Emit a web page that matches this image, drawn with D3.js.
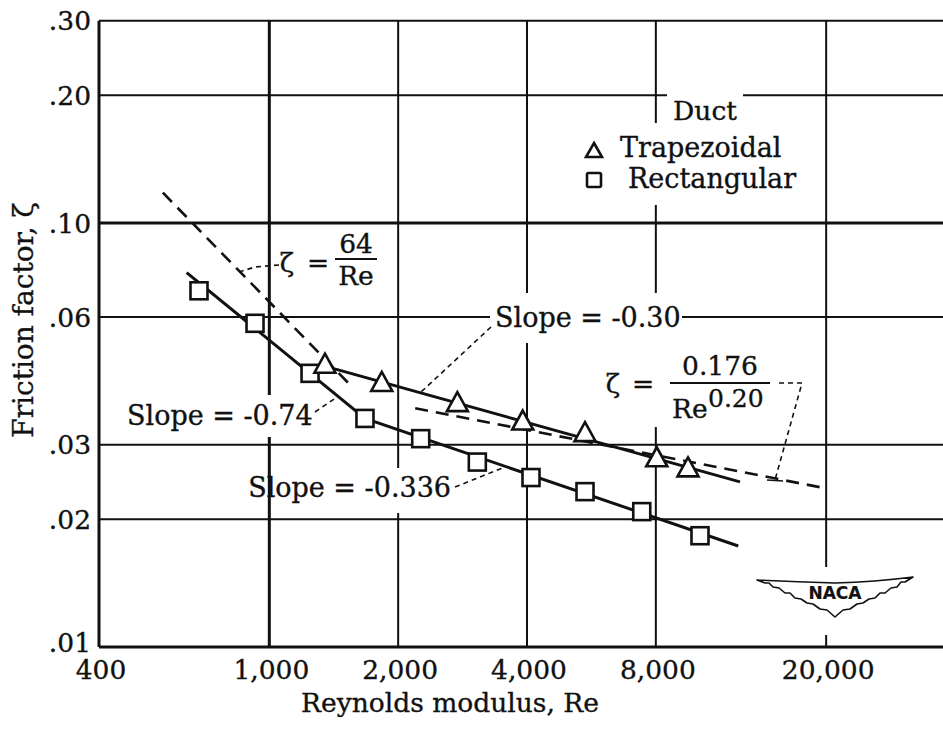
<!DOCTYPE html>
<html><head><meta charset="utf-8">
<script src="https://cdn.jsdelivr.net/npm/d3@7"></script>
<style>
body{margin:0;background:#fff}
text{font-family:"DejaVu Serif",serif;fill:#111;stroke:#111;stroke-width:0.35px}
</style>
</head><body>
<svg id="c" width="943" height="729"></svg>
<script>
// ---- data ----
const xTicks = [400, 1000, 2000, 4000, 8000, 20000];
const xTickLabels = ["400", "1,000", "2,000", "4,000", "8,000", "20,000"];
const yTicks = [0.01, 0.02, 0.03, 0.06, 0.10, 0.20, 0.30];
const yTickLabels = [".01", ".02", ".03", ".06", ".10", ".20", ".30"];

const rectRe   = [685, 926, 1245, 1673, 2258, 3062, 4087, 5465, 7416, 10145];
const rectZeta = [0.0692, 0.0580, 0.0442, 0.0346, 0.0310, 0.0273, 0.0251, 0.02325, 0.02086, 0.0183];
const trapRe   = [1349, 1831, 2750, 3909, 5465, 8040, 9512];
const trapZeta = [0.0467, 0.0423, 0.0379, 0.0343, 0.0322, 0.0281, 0.0266];

const rectFitRe   = [641, 1673, 12465];
const rectFitZeta = [0.0764, 0.0346, 0.01731];
const trapFitRe   = [1328, 12580];
const trapFitZeta = [0.04616, 0.02451];
const laminarRe   = [564, 1569];
const laminarZeta = [0.1179, 0.04085];
const turbRe      = [2192, 19700];
const turbZeta    = [0.03658, 0.02373];

// ---- drawing ----
const svg = d3.select("#c");
const x = d3.scaleLog().domain([400, 40000]).range([99, 955]);
const y = d3.scaleLog().domain([0.01, 0.30]).range([647, 20.7]);
const ink = "#111";
const FS = 26.5;

const grid = svg.append("g");
const majorX = new Set([400, 1000]);
const majorY = new Set([0.01, 0.10]);
grid.selectAll("line.v").data(xTicks).join("line")
  .attr("x1", d => x(d)).attr("x2", d => x(d))
  .attr("y1", y(0.30)).attr("y2", y(0.01))
  .attr("stroke", ink).attr("stroke-width", d => majorX.has(d) ? 3 : 2);
grid.selectAll("line.h").data(yTicks).join("line")
  .attr("x1", x(400)).attr("x2", 943)
  .attr("y1", d => y(d)).attr("y2", d => y(d))
  .attr("stroke", ink).attr("stroke-width", d => majorY.has(d) ? 3.2 : 2);

// gaps in the grid behind labels
const masks = [
  [650, 123, 12, 82],   // legend, 8000 line
  [667, 91, 76, 9],     // legend, .20 line
  [263, 395, 12, 42],   // slope -0.74, 1000 line
  [392, 468, 12, 45],   // slope -0.336, 2000 line
  [520, 293, 12, 50],   // slope -0.30, 4000 line
  [650, 293, 12, 134],  // formula, 8000 line
  [490, 313, 192, 10],  // slope -0.30, .06 line
  [820, 567, 12, 68]    // NACA logo, 20000 line
];
svg.append("g").selectAll("rect").data(masks).join("rect")
  .attr("x", d => d[0]).attr("y", d => d[1]).attr("width", d => d[2]).attr("height", d => d[3])
  .attr("fill", "#fff");

// tick labels
svg.append("g").selectAll("text").data(xTicks).join("text")
  .attr("x", d => x(d) + 2).attr("y", 679)
  .attr("text-anchor", "middle").attr("font-size", FS)
  .text((d, i) => xTickLabels[i]);
svg.append("g").selectAll("text").data(yTicks).join("text")
  .attr("x", 91).attr("y", d => y(d) - (d === 0.01 ? 5 : 0)).attr("dy", "0.36em")
  .attr("text-anchor", "end").attr("font-size", FS)
  .text((d, i) => yTickLabels[i]);

svg.append("text").attr("x", 450).attr("y", 712).attr("text-anchor", "middle")
  .attr("font-size", FS).text("Reynolds modulus, Re");
svg.append("text").attr("transform", "translate(33,320) rotate(-90)")
  .attr("text-anchor", "middle").attr("font-size", 28).text("Friction factor, ζ");

// fitted / reference lines
const line = d3.line().x(d => x(d[0])).y(d => y(d[1]));
const zip = (a, b) => a.map((v, i) => [v, b[i]]);
svg.append("path").attr("d", line(zip(laminarRe, laminarZeta)))
  .attr("fill", "none").attr("stroke", ink).attr("stroke-width", 2.6).attr("stroke-dasharray", "13 8");
svg.append("path").attr("d", line(zip(turbRe, turbZeta)))
  .attr("fill", "none").attr("stroke", ink).attr("stroke-width", 2.6).attr("stroke-dasharray", "13 8");
svg.append("path").attr("d", line(zip(rectFitRe, rectFitZeta)))
  .attr("fill", "none").attr("stroke", ink).attr("stroke-width", 3);
svg.append("path").attr("d", line(zip(trapFitRe, trapFitZeta)))
  .attr("fill", "none").attr("stroke", ink).attr("stroke-width", 3);

// markers
const sq = 17;
svg.append("g").selectAll("rect").data(zip(rectRe, rectZeta)).join("rect")
  .attr("x", d => x(d[0]) - sq / 2).attr("y", d => y(d[1]) - sq / 2)
  .attr("width", sq).attr("height", sq)
  .attr("fill", "#fff").attr("stroke", ink).attr("stroke-width", 2.6);
const tri = (cx, cy, w, h) => `M${cx},${cy - h / 2}L${cx + w / 2},${cy + h / 2}L${cx - w / 2},${cy + h / 2}Z`;
svg.append("g").selectAll("path").data(zip(trapRe, trapZeta)).join("path")
  .attr("d", d => tri(x(d[0]), y(d[1]), 21, 19))
  .attr("fill", "#fff").attr("stroke", ink).attr("stroke-width", 2.6).attr("stroke-linejoin", "miter");

// annotations
const leader = (d) => svg.append("path").attr("d", d).attr("fill", "none")
  .attr("stroke", ink).attr("stroke-width", 1.6).attr("stroke-dasharray", "5 4");

// zeta = 64/Re
svg.append("text").attr("x", 287).attr("y", 262).attr("dy", "0.36em").attr("text-anchor", "middle").attr("font-size", FS).text("ζ");
svg.append("text").attr("x", 318).attr("y", 262).attr("dy", "0.36em").attr("text-anchor", "middle").attr("font-size", FS).text("=");
svg.append("text").attr("x", 356).attr("y", 253).attr("text-anchor", "middle").attr("font-size", FS).text("64");
svg.append("line").attr("x1", 335).attr("x2", 377).attr("y1", 259).attr("y2", 259).attr("stroke", ink).attr("stroke-width", 2);
svg.append("text").attr("x", 356).attr("y", 285).attr("text-anchor", "middle").attr("font-size", FS).text("Re");
leader("M279,265 L255,267 L236,273");

// Slope = -0.74
svg.append("text").attr("x", 127).attr("y", 425).attr("font-size", 27).text("Slope = -0.74");
leader("M315,412 L337,397");

// Slope = -0.30
svg.append("text").attr("x", 495).attr("y", 327).attr("font-size", 27).text("Slope = -0.30");
leader("M491,327 L420,393");

// Slope = -0.336
svg.append("text").attr("x", 451).attr("y", 497).attr("text-anchor", "end").attr("font-size", 27).text("Slope = -0.336");
leader("M455,487 L505,467");

// zeta = 0.176/Re^0.20
svg.append("text").attr("x", 613).attr("y", 383).attr("dy", "0.36em").attr("text-anchor", "middle").attr("font-size", FS).text("ζ");
svg.append("text").attr("x", 643).attr("y", 383).attr("dy", "0.36em").attr("text-anchor", "middle").attr("font-size", FS).text("=");
svg.append("text").attr("x", 720).attr("y", 375).attr("text-anchor", "middle").attr("font-size", FS).text("0.176");
svg.append("line").attr("x1", 670).attr("x2", 770).attr("y1", 383).attr("y2", 383).attr("stroke", ink).attr("stroke-width", 2);
svg.append("text").attr("x", 672).attr("y", 418).attr("font-size", FS).text("Re");
svg.append("text").attr("x", 708).attr("y", 407).attr("font-size", 25).text("0.20");
leader("M779,383 L802,383 L775,480");
svg.append("line").attr("x1", 767).attr("x2", 783).attr("y1", 480).attr("y2", 481).attr("stroke", ink).attr("stroke-width", 1.6);

// legend
svg.append("text").attr("x", 705).attr("y", 120).attr("text-anchor", "middle").attr("font-size", FS).text("Duct");
svg.append("path").attr("d", tri(594, 150, 16, 14)).attr("fill", "#fff").attr("stroke", ink).attr("stroke-width", 2.6);
svg.append("text").attr("x", 620).attr("y", 157).attr("font-size", 27).text("Trapezoidal");
svg.append("rect").attr("x", 587).attr("y", 173).attr("width", 14).attr("height", 14).attr("rx", 1.5)
  .attr("fill", "#fff").attr("stroke", ink).attr("stroke-width", 2.6);
svg.append("text").attr("x", 628).attr("y", 188).attr("font-size", 27).text("Rectangular");

// NACA wing logo
const logo = svg.append("g").attr("transform", "translate(835,597)");
logo.append("path")
  .attr("d", "M-78,-17 Q-40,-15 0,-14 Q40,-15 78,-20 L70,-15 L66,-15 L62,-10 L56,-9 L50,-4 L45,-4 L40,1 L34,2 L28,6 L22,7 L15,12 L8,13 L0,20 L-8,13 L-15,12 L-22,7 L-28,6 L-34,2 L-40,1 L-45,-4 L-50,-4 L-56,-9 L-62,-10 L-66,-14 L-70,-14 Z")
  .attr("fill", "#fff").attr("stroke", ink).attr("stroke-width", 1.6).attr("stroke-linejoin", "round");
logo.append("text").attr("x", 0).attr("y", -4).attr("dy", "0.36em").attr("text-anchor", "middle")
  .style("font-family", "'DejaVu Sans',sans-serif").style("stroke-width", "0.2px")
  .attr("font-size", 17).attr("font-weight", 600).text("NACA");
</script>
</body></html>
